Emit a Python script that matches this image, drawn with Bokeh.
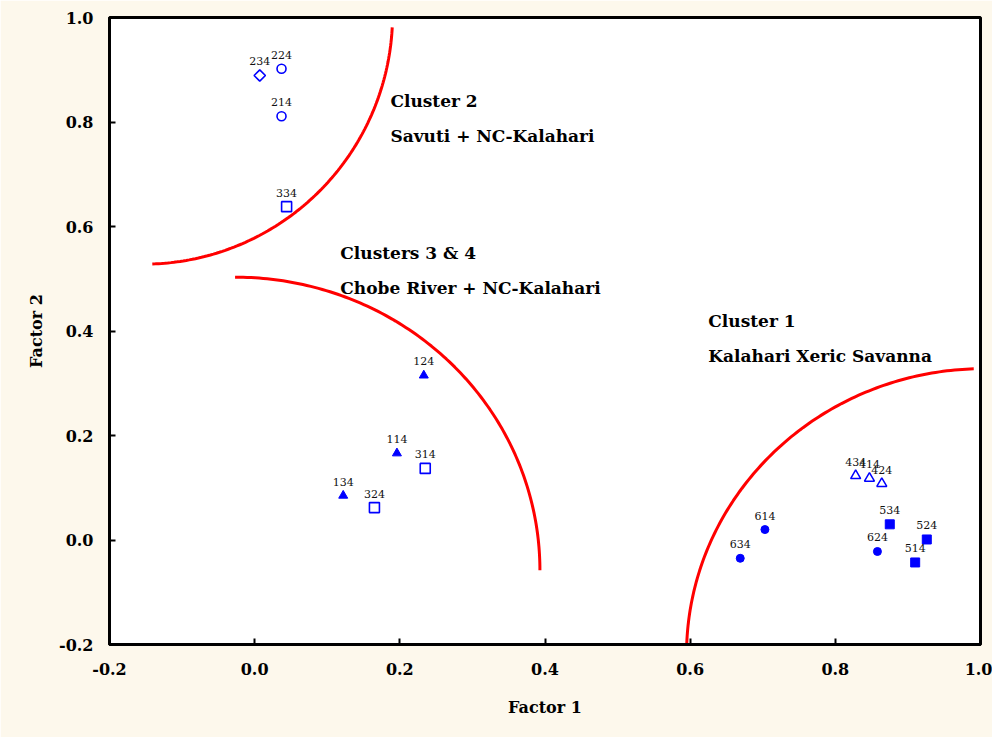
import numpy as np
from bokeh.plotting import figure
from bokeh.models import ColumnDataSource, FixedTicker, PrintfTickFormatter, LabelSet
from bokeh.core.properties import value
from bokeh.embed import file_html
from bokeh.resources import INLINE

# ---- data ----
tri_f_x = [0.233, 0.196, 0.122]
tri_f_y = [0.315, 0.166, 0.085]
tri_f_lab = ["124", "114", "134"]

circ_o_x = [0.037, 0.037]
circ_o_y = [0.902, 0.811]
circ_o_lab = ["224", "214"]

dia_o_x = [0.007]
dia_o_y = [0.889]
dia_o_lab = ["234"]

sq_o_x = [0.044, 0.235, 0.165]
sq_o_y = [0.638, 0.137, 0.062]
sq_o_lab = ["334", "314", "324"]

tri_o_x = [0.828, 0.847, 0.864]
tri_o_y = [0.123, 0.118, 0.108]
tri_o_lab = ["434", "414", "424"]

sq_f_x = [0.875, 0.926, 0.910]
sq_f_y = [0.030, 0.001, -0.043]
sq_f_lab = ["534", "524", "514"]

circ_f_x = [0.703, 0.669, 0.858]
circ_f_y = [0.020, -0.035, -0.022]
circ_f_lab = ["614", "634", "624"]

# cluster boundary arcs: centre x, centre y, radius x, radius y, start angle, end angle (deg)
arc_cx = [-0.153, -0.027, 1.005]
arc_cy = [1.006, -0.058, -0.219]
arc_rx = [0.343, 0.420, 0.410]
arc_ry = [0.478, 0.561, 0.547]
arc_a0 = [-3.0, 90.0, 180.0]
arc_a1 = [-88.0, 0.0, 92.0]

note_x = [0.187, 0.187, 0.118, 0.118, 0.625, 0.625]
note_y = [0.841, 0.774, 0.550, 0.483, 0.420, 0.353]
note_text = ["Cluster 2", "Savuti + NC-Kalahari",
             "Clusters 3 & 4", "Chobe River + NC-Kalahari",
             "Cluster 1", "Kalahari Xeric Savanna"]

ticks = [-0.2, 0.0, 0.2, 0.4, 0.6, 0.8, 1.0]

BLUE = "#0000FF"
SERIF = "DejaVu Serif"

p = figure(width=992, height=737, x_range=(-0.2, 1.0), y_range=(-0.2, 1.0),
           output_backend="svg", toolbar_location=None,
           min_border_left=109, min_border_right=12, min_border_top=17, min_border_bottom=93)
p.border_fill_color = "#FDF8EC"
p.background_fill_color = "white"
p.outline_line_color = "black"
p.outline_line_width = 3
p.xgrid.visible = False
p.ygrid.visible = False

for ax in (p.xaxis, p.yaxis):
    ax.ticker = FixedTicker(ticks=ticks)
    ax.formatter = PrintfTickFormatter(format="%.1f")
    ax.axis_line_width = 3
    ax.axis_line_color = "black"
    ax.major_tick_in = 6
    ax.major_tick_out = 0
    ax.major_tick_line_width = 2
    ax.minor_tick_line_color = None
    ax.major_label_text_font = SERIF
    ax.major_label_text_font_style = "bold"
    ax.major_label_text_font_size = "16px"
    ax.major_label_text_color = "black"
    ax.axis_label_text_font = SERIF
    ax.axis_label_text_font_style = "bold"
    ax.axis_label_text_font_size = "16px"
    ax.axis_label_text_color = "black"

p.xaxis.axis_label = "Factor 1"
p.yaxis.axis_label = "Factor 2"
p.xaxis.major_label_standoff = 18
p.yaxis.major_label_standoff = 16
p.xaxis.axis_label_standoff = 20
p.yaxis.axis_label_standoff = 10

# arcs
for cx, cy, rx, ry, a0, a1 in zip(arc_cx, arc_cy, arc_rx, arc_ry, arc_a0, arc_a1):
    t = np.radians(np.linspace(a0, a1, 120))
    p.line(cx + rx * np.cos(t), cy + ry * np.sin(t), line_color="red", line_width=3)

# points
p.scatter(tri_f_x, tri_f_y, marker="triangle", size=9, fill_color=BLUE, line_color=BLUE)
p.scatter(circ_o_x, circ_o_y, marker="circle", size=9, fill_color="white", line_color=BLUE, line_width=1.6)
p.scatter(dia_o_x, dia_o_y, marker="square", angle=np.pi / 4, size=8, fill_color="white", line_color=BLUE, line_width=1.6)
p.scatter(sq_o_x, sq_o_y, marker="square", size=10, fill_color="white", line_color=BLUE, line_width=1.6)
p.scatter(tri_o_x, tri_o_y, marker="triangle", size=10, fill_color="white", line_color=BLUE, line_width=1.5)
p.scatter(sq_f_x, sq_f_y, marker="square", size=9, fill_color=BLUE, line_color=BLUE)
p.scatter(circ_f_x, circ_f_y, marker="circle", size=8, fill_color=BLUE, line_color=BLUE)

all_x = tri_f_x + circ_o_x + dia_o_x + sq_o_x + tri_o_x + sq_f_x + circ_f_x
all_y = tri_f_y + circ_o_y + dia_o_y + sq_o_y + tri_o_y + sq_f_y + circ_f_y
all_lab = tri_f_lab + circ_o_lab + dia_o_lab + sq_o_lab + tri_o_lab + sq_f_lab + circ_f_lab
lsrc = ColumnDataSource(dict(x=all_x, y=all_y, t=all_lab))
p.add_layout(LabelSet(x="x", y="y", text="t", source=lsrc, y_offset=10,
                      text_align="center", text_baseline="bottom",
                      text_font=value(SERIF), text_font_size="11px", text_color="#111111"))

nsrc = ColumnDataSource(dict(x=note_x, y=note_y, t=note_text))
p.text(x="x", y="y", text="t", source=nsrc, text_align="left", text_baseline="middle",
       text_font=value(SERIF), text_font_size="17px", text_font_style="bold", text_color="black")

open("out.html", "w").write(file_html(p, INLINE))
